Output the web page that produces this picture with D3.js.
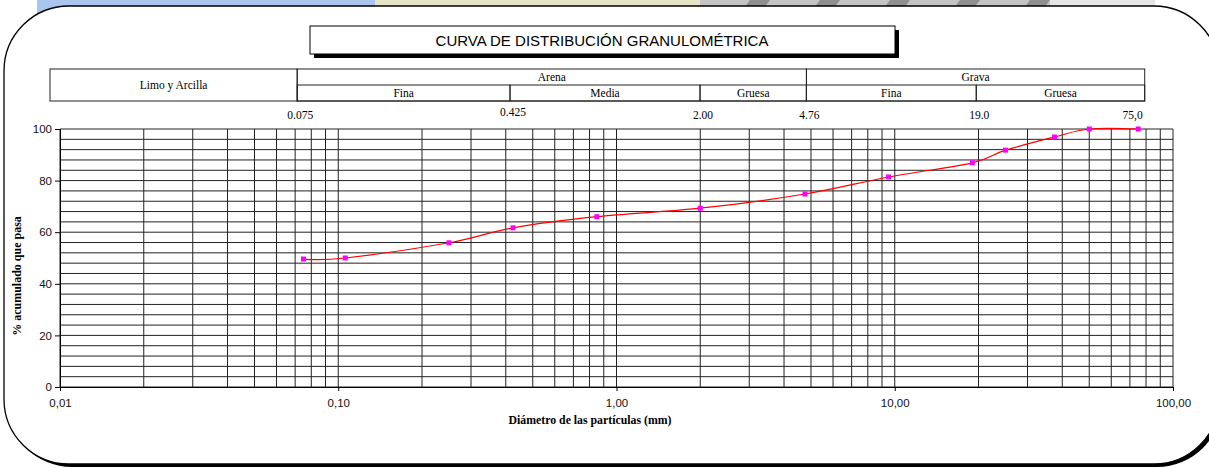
<!DOCTYPE html>
<html>
<head>
<meta charset="utf-8">
<title>Curva granulométrica</title>
<script src="https://cdn.jsdelivr.net/npm/d3@7"></script>
<style>
    body { margin: 0; background: #fff; }
    svg { display: block; }
</style>
</head>
<body>
<div class="view1"></div>
<script>
// Sieve data - diameter (mm) and % accumulated passing
let diameters = [0.075, 0.106, 0.25, 0.425, 0.85, 2.00, 4.76, 9.5, 19.0, 25.0, 37.5, 50.0, 75.0];
let passing = [49.6, 50.0, 55.9, 61.7, 66.0, 69.3, 74.8, 81.4, 86.9, 91.8, 96.9, 100, 100];

// Classification table (soil fractions)
let mainClasses = [
    {name: "Limo y Arcilla", from: 0.01, to: 0.075},
    {name: "Arena", from: 0.075, to: 4.76},
    {name: "Grava", from: 4.76, to: 75.0}
];
let subClasses = [
    {name: "Fina", from: 0.075, to: 0.425},
    {name: "Media", from: 0.425, to: 2.00},
    {name: "Gruesa", from: 2.00, to: 4.76},
    {name: "Fina", from: 4.76, to: 19.0},
    {name: "Gruesa", from: 19.0, to: 75.0}
];
let limitValues = [0.075, 0.425, 2.00, 4.76, 19.0, 75.0];
let limitLabels = ["0.075", "0.425", "2.00", "4.76", "19.0", "75,0"];

// Axis ticks
let xDecades = [0.01, 0.1, 1, 10, 100];
let xDecadeLabels = ["0,01", "0,10", "1,00", "10,00", "100,00"];
let yTicks = [0, 20, 40, 60, 80, 100];

let width = 1209, height = 468;

let svg = d3.select(".view1").append("svg")
    .attr("width", width)
    .attr("height", height);

// Background watermark strip peeking above the frame
let bg = svg.append("g").attr("class", "background");
bg.append("rect").attr("x", 37).attr("y", 0).attr("width", 338).attr("height", 40).attr("fill", "#aac6ee");
bg.append("rect").attr("x", 375).attr("y", 0).attr("width", 325).attr("height", 40).attr("fill", "#e3e5c6");
bg.append("rect").attr("x", 700).attr("y", 0).attr("width", 350).attr("height", 40).attr("fill", "#c4c4c4");
bg.append("rect").attr("x", 1050).attr("y", 0).attr("width", 105).attr("height", 40).attr("fill", "#e6e6e6");
// diagonal stripes in the grey part
[720, 790, 860, 930, 1000].forEach(s => {
    bg.append("path")
        .attr("d", "M" + s + ",40 L" + (s + 30) + ",0 L" + (s + 50) + ",0 L" + (s + 20) + ",40 Z")
        .attr("fill", "#8f8f8f");
});

// Rounded frame with shadow
svg.append("rect")
    .attr("x", 7).attr("y", 9)
    .attr("width", 1215).attr("height", 458)
    .attr("rx", 65).attr("ry", 65)
    .attr("fill", "#000");
svg.append("rect")
    .attr("x", 4).attr("y", 6)
    .attr("width", 1215).attr("height", 458)
    .attr("rx", 65).attr("ry", 65)
    .attr("fill", "#fff")
    .attr("stroke", "#000")
    .attr("stroke-width", 1.3);

// Scales
let x = d3.scaleLog().domain([0.01, 100]).range([60, 1173]);
let y = d3.scaleLinear().domain([0, 100]).range([387, 129]);
// the classification table was drawn a bit wider than the plot
let xTable = d3.scaleLog().domain([0.01, 100]).range([50, 1180]);

/** Title box */
let titleG = svg.append("g").attr("class", "title");
titleG.append("rect")
    .attr("x", 314).attr("y", 30).attr("width", 585).attr("height", 28)
    .attr("fill", "#000");
titleG.append("rect")
    .attr("x", 310).attr("y", 26).attr("width", 585).attr("height", 28)
    .attr("fill", "#fff").attr("stroke", "#000").attr("stroke-width", 1);
titleG.append("text")
    .attr("x", 602).attr("y", 45.5)
    .attr("text-anchor", "middle")
    .style("font-family", "Liberation Sans, Arial, sans-serif")
    .style("font-size", "15px")
    .text("CURVA DE DISTRIBUCIÓN GRANULOMÉTRICA");

/** Classification table */
let tableTop = 69, tableMid = 85, tableBot = 101;
let tableG = svg.append("g").attr("class", "table")
    .style("font-family", "Liberation Serif, Times New Roman, serif")
    .style("font-size", "11.5px");

tableG.selectAll("rect.main")
    .data(mainClasses)
    .join("rect")
    .classed("main", true)
    .attr("x", d => xTable(d.from))
    .attr("y", tableTop)
    .attr("width", d => xTable(d.to) - xTable(d.from))
    .attr("height", tableBot - tableTop)
    .attr("fill", "none")
    .attr("stroke", "#222");

tableG.selectAll("rect.sub")
    .data(subClasses)
    .join("rect")
    .classed("sub", true)
    .attr("x", d => xTable(d.from))
    .attr("y", tableMid)
    .attr("width", d => xTable(d.to) - xTable(d.from))
    .attr("height", tableBot - tableMid)
    .attr("fill", "none")
    .attr("stroke", "#222");

tableG.selectAll("text.main")
    .data(mainClasses)
    .join("text")
    .classed("main", true)
    .attr("x", d => (xTable(d.from) + xTable(d.to)) / 2)
    // Limo y Arcilla has no sub classes, so it sits in the middle
    .attr("y", (d, i) => i == 0 ? 89 : 81)
    .attr("text-anchor", "middle")
    .text(d => d.name);

tableG.selectAll("text.sub")
    .data(subClasses)
    .join("text")
    .classed("sub", true)
    .attr("x", d => (xTable(d.from) + xTable(d.to)) / 2)
    .attr("y", 97)
    .attr("text-anchor", "middle")
    .text(d => d.name);

tableG.selectAll("text.limit")
    .data(limitValues)
    .join("text")
    .classed("limit", true)
    .attr("x", (d, i) => i == limitValues.length - 1 ? xTable(d) - 2 : xTable(d) + 3)
    .attr("y", (d, i) => i == 1 ? 116 : 119)
    .attr("text-anchor", (d, i) => i == limitValues.length - 1 ? "end" : "middle")
    .text((d, i) => limitLabels[i]);

/** Grid */
let gridG = svg.append("g").attr("class", "grid");

// horizontal lines every 4 %
let hLines = d3.range(0, 101, 4);
gridG.selectAll("line.h")
    .data(hLines)
    .join("line")
    .classed("h", true)
    .attr("x1", x(0.01)).attr("x2", x(100))
    .attr("y1", d => y(d)).attr("y2", d => y(d))
    .attr("stroke", "#222")
    .attr("stroke-width", 1);

// vertical lines at 1..9 x each decade
let vLines = [];
for (let k = -2; k < 2; k++) {
    for (let m = 1; m <= 9; m++) vLines.push(m * Math.pow(10, k));
}
vLines.push(100);
gridG.selectAll("line.v")
    .data(vLines)
    .join("line")
    .classed("v", true)
    .attr("x1", d => x(d)).attr("x2", d => x(d))
    .attr("y1", y(0)).attr("y2", y(100))
    .attr("stroke", "#222")
    .attr("stroke-width", 1);

/** Axes */
let yAxis = d3.axisLeft(y).tickValues(yTicks).tickSize(5).tickFormat(d3.format("d"));
let yAxisG = svg.append("g")
    .attr("transform", "translate(" + x(0.01) + ",0)")
    .call(yAxis);

let xAxis = d3.axisBottom(x).tickValues(xDecades).tickSize(4)
    .tickFormat((d, i) => xDecadeLabels[i]);
let xAxisG = svg.append("g")
    .attr("transform", "translate(0," + y(0) + ")")
    .call(xAxis);

[yAxisG, xAxisG].forEach(g => {
    g.select(".domain").attr("stroke", "#000");
    g.selectAll(".tick line").attr("stroke", "#000");
    g.selectAll("text")
        .attr("fill", "#111")
        .style("font-family", "Liberation Sans, Arial, sans-serif")
        .style("font-size", "11.5px");
});
xAxisG.selectAll("text").attr("dy", "1.1em");

// axis titles
svg.append("text")
    .attr("x", 590).attr("y", 424)
    .attr("text-anchor", "middle")
    .style("font-family", "Liberation Serif, Times New Roman, serif")
    .style("font-size", "11.8px")
    .style("font-weight", "bold")
    .text("Diámetro de las partículas (mm)");

svg.append("text")
    .attr("transform", "translate(21,276) rotate(-90)")
    .attr("text-anchor", "middle")
    .style("font-family", "Liberation Serif, Times New Roman, serif")
    .style("font-size", "12px")
    .style("font-weight", "bold")
    .text("% acumulado que pasa");

/** Curve */
let points = diameters.map((d, i) => [d, passing[i]]);

let line = d3.line()
    .x(d => x(d[0]))
    .y(d => y(d[1]))
    .curve(d3.curveCardinal.tension(0));

svg.append("path")
    .datum(points)
    .attr("d", line)
    .attr("fill", "none")
    .attr("stroke", "#ff0000")
    .attr("stroke-width", 1.2);

svg.append("g").attr("class", "markers")
    .selectAll("rect")
    .data(points)
    .join("rect")
    .attr("x", d => x(d[0]) - 2.5)
    .attr("y", d => y(d[1]) - 2.5)
    .attr("width", 5)
    .attr("height", 5)
    .attr("fill", "#ff00ff");
</script>
</body>
</html>
